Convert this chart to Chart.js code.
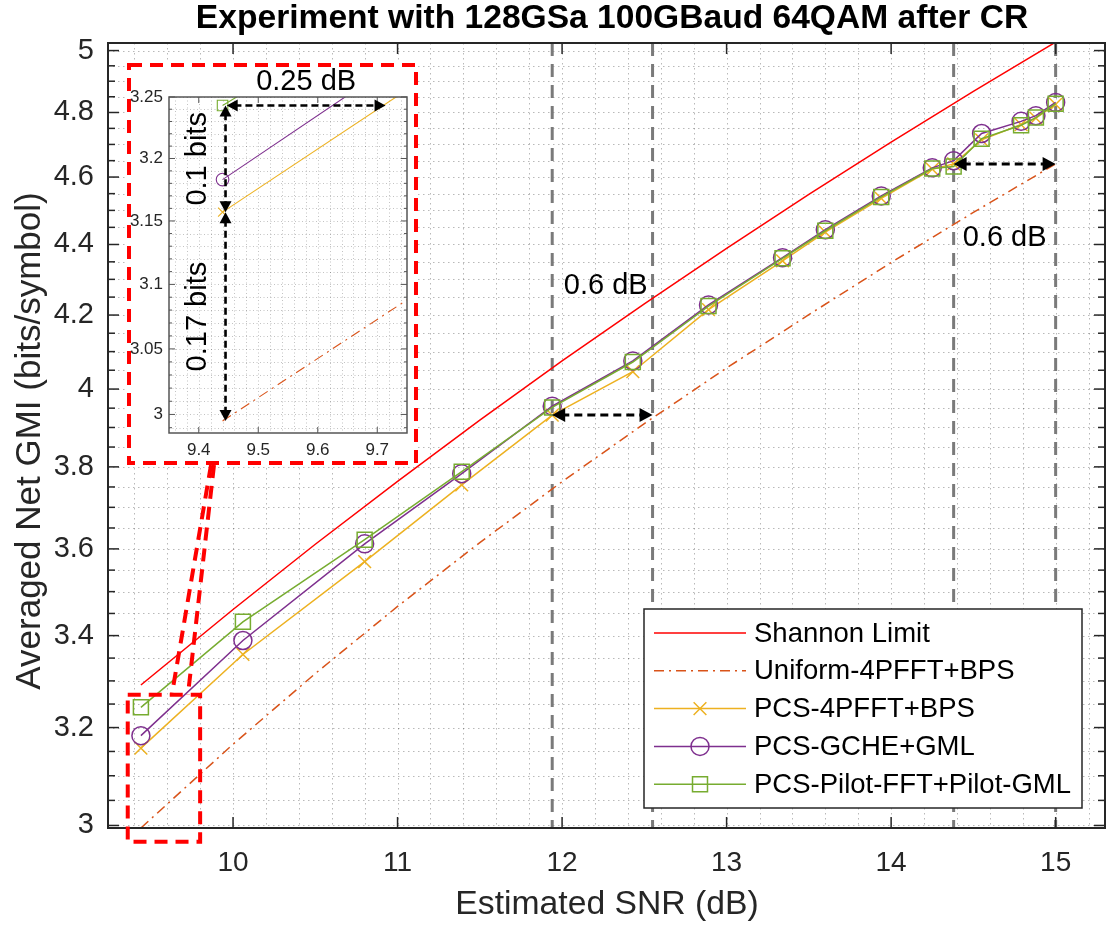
<!DOCTYPE html>
<html><head><meta charset="utf-8">
<script src="https://cdn.jsdelivr.net/npm/chart.js@4.4.1/dist/chart.umd.min.js"></script>
<style>
html,body{margin:0;padding:0;background:#fff;}
#wrap{position:relative;width:1110px;height:927px;overflow:hidden;}
#main{position:absolute;left:0;top:0;}
#inset{position:absolute;left:127px;top:63px;}
</style></head><body>
<div id="wrap">
<canvas id="main" width="1110" height="927"></canvas>
<canvas id="inset" width="291" height="402"></canvas>
</div>
<script>
// ---------------- DATA ----------------
const snrMeasured = [9.44, 10.06, 10.80, 11.39, 11.94, 12.43, 12.89, 13.34, 13.60, 13.94, 14.25, 14.38, 14.55, 14.79, 14.88, 15.00];
const gmiPCS4PFFT = [3.157, 3.358, 3.570, 3.755, 3.932, 4.046, 4.215, 4.353, 4.436, 4.536, 4.624, 4.640, 4.714, 4.762, 4.782, 4.826];
const gmiGCHE     = [3.183, 3.389, 3.612, 3.783, 3.955, 4.075, 4.228, 4.362, 4.443, 4.543, 4.628, 4.650, 4.734, 4.772, 4.790, 4.832];
const gmiPilot    = [3.243, 3.431, 3.622, 3.788, 3.952, 4.072, 4.225, 4.360, 4.440, 4.540, 4.626, 4.632, 4.718, 4.760, 4.784, 4.828];
const snrRef      = [9.44, 10, 10.5, 11, 11.5, 12, 12.5, 13, 13.5, 14, 14.5, 15];
const gmiShannon  = [3.291, 3.459, 3.611, 3.764, 3.919, 4.075, 4.231, 4.389, 4.548, 4.707, 4.867, 5.028];
const gmiUniform  = [2.995, 3.165, 3.316, 3.466, 3.615, 3.763, 3.910, 4.056, 4.201, 4.348, 4.494, 4.640];
const seriesLabels = ['Shannon Limit', 'Uniform-4PFFT+BPS', 'PCS-4PFFT+BPS', 'PCS-GCHE+GML', 'PCS-Pilot-FFT+Pilot-GML'];

const titleText = 'Experiment with 128GSa 100GBaud 64QAM after CR';
const xTitle = 'Estimated SNR (dB)';
const yTitle = 'Averaged Net GMI (bits/symbol)';
const xTicksMain = [10, 11, 12, 13, 14, 15];
const yTicksMain = [3, 3.2, 3.4, 3.6, 3.8, 4, 4.2, 4.4, 4.6, 4.8, 5];
const xTicksInset = [9.4, 9.5, 9.6, 9.7];
const yTicksInset = [3, 3.05, 3.1, 3.15, 3.2, 3.25];

// annotations (data units)
const refLinesSNR = [11.94, 12.55, 14.38, 15.0];
const gapArrows = [{x1: 11.94, x2: 12.55, y: 3.932}, {x1: 14.38, x2: 15.0, y: 4.64}];
const gapLabels = [{text: '0.6 dB', x: 12.265, y: 4.28}, {text: '0.6 dB', x: 14.69, y: 4.42}];
const insetHArrow = {x1: 9.447, x2: 9.714, y: 3.243, text: '0.25 dB'};
const insetVArrows = [{x: 9.445, y1: 3.243, y2: 3.157, text: '0.1 bits'}, {x: 9.445, y1: 3.157, y2: 2.995, text: '0.17 bits'}];
const zoomBox = {x0: 9.36, x1: 9.80, y0: 3.27, y1: 2.968};

// ---------------- HELPERS ----------------
const FONT = "'Liberation Sans', Arial, Helvetica, sans-serif";
const AXC = '#262626';
const colors = ['#FF0000', '#D95319', '#EDB120', '#7E2F8E', '#77AC30'];
const styles = [null, null, 'crossRot', 'circle', 'rect'];
const dashes = [[], [10, 5, 2, 5], [], [], []];

function pts(xs, ys) { return xs.map((x, i) => ({x: x, y: ys[i]})); }
function seg(ctx, x1, y1, x2, y2) { ctx.beginPath(); ctx.moveTo(x1, y1); ctx.lineTo(x2, y2); ctx.stroke(); }
function head(ctx, x, y, ux, uy, len, half) {
  ctx.beginPath();
  ctx.moveTo(x, y);
  ctx.lineTo(x - ux * len - uy * half, y - uy * len + ux * half);
  ctx.lineTo(x - ux * len + uy * half, y - uy * len - ux * half);
  ctx.closePath(); ctx.fill();
}
function dblArrow(ctx, x1, y1, x2, y2, lw, dash, len, half) {
  const L = Math.hypot(x2 - x1, y2 - y1), ux = (x2 - x1) / L, uy = (y2 - y1) / L;
  ctx.save(); ctx.strokeStyle = '#000'; ctx.fillStyle = '#000'; ctx.lineWidth = lw; ctx.setLineDash(dash);
  seg(ctx, x1 + ux * len * 0.7, y1 + uy * len * 0.7, x2 - ux * len * 0.7, y2 - uy * len * 0.7);
  ctx.setLineDash([]);
  head(ctx, x2, y2, ux, uy, len, half);
  head(ctx, x1, y1, -ux, -uy, len, half);
  ctx.restore();
}
function txt(ctx, s, x, y, font, color, rot) {
  ctx.save(); ctx.font = font; ctx.fillStyle = color; ctx.textAlign = 'center'; ctx.textBaseline = 'middle';
  ctx.translate(x, y); if (rot) ctx.rotate(rot); ctx.fillText(s, 0, 0); ctx.restore();
}
function marker(ctx, style, x, y, r, color, lw) {
  ctx.save(); ctx.strokeStyle = color; ctx.lineWidth = lw; ctx.setLineDash([]); ctx.beginPath();
  if (style === 'circle') ctx.arc(x, y, r, 0, Math.PI * 2);
  else if (style === 'rect') { const s = r * Math.SQRT1_2; ctx.rect(x - s, y - s, 2 * s, 2 * s); }
  else if (style === 'crossRot') { const s = r * Math.SQRT1_2; ctx.moveTo(x - s, y - s); ctx.lineTo(x + s, y + s); ctx.moveTo(x - s, y + s); ctx.lineTo(x + s, y - s); }
  ctx.stroke(); ctx.restore();
}
function range(a, b, step) { const out = []; const n = Math.round((b - a) / step); for (let i = 0; i <= n; i++) out.push(+(a + i * step).toFixed(4)); return out; }

function makeDatasets(k, lw) {
  const xsList = [snrRef, snrRef, snrMeasured, snrMeasured, snrMeasured];
  const ysList = [gmiShannon, gmiUniform, gmiPCS4PFFT, gmiGCHE, gmiPilot];
  const radii = [0, 0, 9 * k, 9 * k, 10.6 * k];
  return seriesLabels.map((lab, i) => ({
    label: lab,
    data: pts(xsList[i], ysList[i]),
    borderColor: colors[i], backgroundColor: colors[i],
    borderWidth: lw, borderDash: dashes[i],
    pointStyle: styles[i] || 'circle', pointRadius: radii[i],
    pointBorderColor: colors[i], pointBackgroundColor: 'rgba(0,0,0,0)', pointBorderWidth: lw,
    fill: false, tension: 0, order: 5 - i
  }));
}
function fitArea(chart, L, T, R, B) {
  for (let k = 0; k < 4; k++) {
    const a = chart.chartArea, p = chart.options.layout.padding;
    const dl = L - a.left, dt = T - a.top, dr = a.right - R, db = a.bottom - B;
    if (Math.max(Math.abs(dl), Math.abs(dt), Math.abs(dr), Math.abs(db)) < 0.5) break;
    chart.options.layout.padding = {left: p.left + dl, top: p.top + dt, right: p.right + dr, bottom: p.bottom + db};
    chart.update();
  }
}
function noPadX(s, h) { s.height = h; s.paddingLeft = 0; s.paddingRight = 0; }
function noPadY(s, w) { s.width = w; s.paddingTop = 0; s.paddingBottom = 0; }

// ---------------- MAIN CHART ----------------
const xMinorMain = range(9.4, 15.2, 0.2);
const yMinorMain = range(3.0, 5.0, 0.05);

const mainDecor = {
  id: 'mainDecor',
  beforeDraw(chart) { const c = chart.ctx; c.save(); c.fillStyle = '#fff'; c.fillRect(0, 0, chart.width, chart.height); c.restore(); },
  beforeDatasetsDraw(chart) {
    const {ctx, chartArea: a, scales: {x, y}} = chart;
    ctx.save();
    ctx.strokeStyle = 'rgba(38,38,38,0.32)'; ctx.lineWidth = 1; ctx.setLineDash([1.5, 3.5]);
    xMinorMain.forEach(v => { const p = Math.round(x.getPixelForValue(v)) + 0.5; seg(ctx, p, a.top, p, a.bottom); });
    yMinorMain.forEach(v => { const p = Math.round(y.getPixelForValue(v)) + 0.5; seg(ctx, a.left, p, a.right, p); });
    ctx.strokeStyle = '#7a7a7a'; ctx.lineWidth = 3; ctx.setLineDash([13, 8]);
    refLinesSNR.forEach(v => { const p = x.getPixelForValue(v); seg(ctx, p, a.top, p, a.bottom); });
    ctx.restore();
  },
  afterDatasetsDraw(chart) {
    const {ctx, chartArea: a, scales: {x, y}} = chart;
    ctx.save();
    // frame
    ctx.strokeStyle = AXC; ctx.lineWidth = 2; ctx.setLineDash([]);
    ctx.strokeRect(a.left, a.top, a.right - a.left, a.bottom - a.top);
    // ticks
    ctx.lineWidth = 1.5;
    xTicksMain.forEach(v => { const p = x.getPixelForValue(v); seg(ctx, p, a.bottom, p, a.bottom - 11); seg(ctx, p, a.top, p, a.top + 11); });
    yMinorMain.forEach(v => {
      const p = y.getPixelForValue(v); const major = yTicksMain.some(t => Math.abs(t - v) < 1e-6); const L = major ? 11 : 7;
      seg(ctx, a.left, p, a.left + L, p); seg(ctx, a.right, p, a.right - L, p);
    });
    // arrows + labels
    gapArrows.forEach(g => dblArrow(ctx, x.getPixelForValue(g.x1), y.getPixelForValue(g.y), x.getPixelForValue(g.x2), y.getPixelForValue(g.y), 3, [8, 5], 13, 7));
    gapLabels.forEach(g => txt(ctx, g.text, x.getPixelForValue(g.x), y.getPixelForValue(g.y), '29px ' + FONT, '#000'));
    // zoom box + connectors
    ctx.strokeStyle = '#FF0000'; ctx.lineWidth = 4; ctx.setLineDash([13, 8]);
    const bx0 = x.getPixelForValue(zoomBox.x0), bx1 = x.getPixelForValue(zoomBox.x1);
    const by0 = y.getPixelForValue(zoomBox.y0), by1 = y.getPixelForValue(zoomBox.y1);
    ctx.strokeRect(bx0, by0, bx1 - bx0, by1 - by0);
    const insetBottom = 465;
    seg(ctx, 211, insetBottom, x.getPixelForValue(9.628), by0);
    seg(ctx, 214, insetBottom, x.getPixelForValue(9.726), by0);
    ctx.setLineDash([]);
    // legend
    const lw = 438, lh = 199, lx = a.right - 461, ly = a.bottom - 219;
    ctx.fillStyle = '#fff'; ctx.fillRect(lx, ly, lw, lh);
    ctx.strokeStyle = AXC; ctx.lineWidth = 1.5; ctx.strokeRect(lx, ly, lw, lh);
    seriesLabels.forEach((lab, i) => {
      const cy = ly + 24 + i * 37.8;
      ctx.save(); ctx.strokeStyle = colors[i]; ctx.lineWidth = 1.5; ctx.setLineDash(dashes[i]);
      seg(ctx, lx + 10, cy, lx + 102, cy); ctx.restore();
      if (styles[i]) marker(ctx, styles[i], lx + 56, cy, i === 4 ? 10.6 : 9, colors[i], 1.5);
      ctx.save(); ctx.font = '27.5px ' + FONT; ctx.fillStyle = '#000'; ctx.textAlign = 'left'; ctx.textBaseline = 'middle';
      ctx.fillText(lab, lx + 110, cy + 1); ctx.restore();
    });
    // titles
    txt(ctx, titleText, 612, 19, 'bold 33.6px ' + FONT, '#000');
    txt(ctx, xTitle, 607, 905, '33.7px ' + FONT, AXC);
    txt(ctx, yTitle, 30, 441, '35px ' + FONT, AXC, -Math.PI / 2);
    ctx.restore();
  }
};

const mainChart = new Chart(document.getElementById('main'), {
  type: 'line',
  data: {datasets: makeDatasets(1, 1.5)},
  options: {
    responsive: false, animation: false, events: [],
    layout: {autoPadding: false, padding: {left: 0, top: 43, right: 5, bottom: 0}},
    plugins: {legend: {display: false}, title: {display: false}, tooltip: {enabled: false}},
    scales: {
      x: {
        type: 'linear', min: 9.24, max: 15.3,
        afterBuildTicks: s => { s.ticks = xTicksMain.map(v => ({value: v})); },
        afterFit: s => noPadX(s, 99),
        grid: {display: false, drawTicks: false}, border: {display: false},
        ticks: {autoSkip: false, maxRotation: 0, minRotation: 0, padding: 18, color: AXC, font: {family: FONT, size: 28}, callback: v => String(v)}
      },
      y: {
        type: 'logarithmic', min: 2.995, max: 5.025,
        afterBuildTicks: s => { s.ticks = yTicksMain.map(v => ({value: v})); },
        afterFit: s => noPadY(s, 108),
        grid: {display: false, drawTicks: false}, border: {display: false},
        ticks: {autoSkip: false, padding: 14, color: AXC, font: {family: FONT, size: 29}, callback: v => String(v)}
      }
    }
  },
  plugins: [mainDecor]
});
fitArea(mainChart, 108, 43, 1105, 828);

// ---------------- INSET CHART ----------------
const xMinorInset = range(9.36, 9.74, 0.02);
const yMinorInset = range(2.99, 3.25, 0.01);

const insetDecor = {
  id: 'insetDecor',
  beforeDraw(chart) { const c = chart.ctx; c.save(); c.fillStyle = '#fff'; c.fillRect(0, 0, chart.width, chart.height); c.restore(); },
  beforeDatasetsDraw(chart) {
    const {ctx, chartArea: a, scales: {x, y}} = chart;
    ctx.save();
    ctx.strokeStyle = 'rgba(38,38,38,0.28)'; ctx.lineWidth = 1; ctx.setLineDash([1, 2.5]);
    xMinorInset.forEach(v => { const p = Math.round(x.getPixelForValue(v)) + 0.5; seg(ctx, p, a.top, p, a.bottom); });
    yMinorInset.forEach(v => { const p = Math.round(y.getPixelForValue(v)) + 0.5; seg(ctx, a.left, p, a.right, p); });
    ctx.restore();
  },
  afterDatasetsDraw(chart) {
    const {ctx, chartArea: a, scales: {x, y}} = chart;
    ctx.save();
    ctx.strokeStyle = '#555'; ctx.lineWidth = 1.5; ctx.setLineDash([]);
    ctx.strokeRect(a.left, a.top, a.right - a.left, a.bottom - a.top);
    ctx.lineWidth = 1;
    xTicksInset.forEach(v => { const p = x.getPixelForValue(v); seg(ctx, p, a.bottom, p, a.bottom - 6); seg(ctx, p, a.top, p, a.top + 6); });
    yMinorInset.forEach(v => {
      const p = y.getPixelForValue(v); const major = yTicksInset.some(t => Math.abs(t - v) < 1e-6); const L = major ? 6 : 3;
      seg(ctx, a.left, p, a.left + L, p); seg(ctx, a.right, p, a.right - L, p);
    });
    // arrows
    const h = insetHArrow;
    dblArrow(ctx, x.getPixelForValue(h.x1), y.getPixelForValue(h.y), x.getPixelForValue(h.x2), y.getPixelForValue(h.y), 2.6, [7, 4], 11, 6);
    txt(ctx, h.text, x.getPixelForValue((h.x1 + h.x2) / 2), a.top - 15, '29px ' + FONT, '#000');
    insetVArrows.forEach(v => {
      const px = x.getPixelForValue(v.x);
      dblArrow(ctx, px, y.getPixelForValue(v.y1), px, y.getPixelForValue(v.y2), 2.6, [7, 4], 11, 6);
      txt(ctx, v.text, px - 28, y.getPixelForValue(Math.sqrt(v.y1 * v.y2)), '29px ' + FONT, '#000', -Math.PI / 2);
    });
    // red dashed frame
    ctx.strokeStyle = '#FF0000'; ctx.lineWidth = 4; ctx.setLineDash([13, 8]);
    ctx.strokeRect(2, 2, chart.width - 4, chart.height - 4);
    ctx.restore();
  }
};

const insetChart = new Chart(document.getElementById('inset'), {
  type: 'line',
  data: {datasets: makeDatasets(0.7, 1.1)},
  options: {
    responsive: false, animation: false, events: [],
    layout: {autoPadding: false, padding: {left: 0, top: 34, right: 11, bottom: 0}},
    plugins: {legend: {display: false}, title: {display: false}, tooltip: {enabled: false}},
    scales: {
      x: {
        type: 'linear', min: 9.35, max: 9.75,
        afterBuildTicks: s => { s.ticks = xTicksInset.map(v => ({value: v})); },
        afterFit: s => noPadX(s, 32),
        grid: {display: false, drawTicks: false}, border: {display: false},
        ticks: {autoSkip: false, maxRotation: 0, minRotation: 0, padding: 7, color: AXC, font: {family: FONT, size: 17}, callback: v => String(v)}
      },
      y: {
        type: 'logarithmic', min: 2.986, max: 3.25,
        afterBuildTicks: s => { s.ticks = yTicksInset.map(v => ({value: v})); },
        afterFit: s => noPadY(s, 42),
        grid: {display: false, drawTicks: false}, border: {display: false},
        ticks: {autoSkip: false, padding: 6, color: AXC, font: {family: FONT, size: 17}, callback: v => String(v)}
      }
    }
  },
  plugins: [insetDecor]
});
fitArea(insetChart, 42, 34, 280, 370);
</script>
</body></html>
